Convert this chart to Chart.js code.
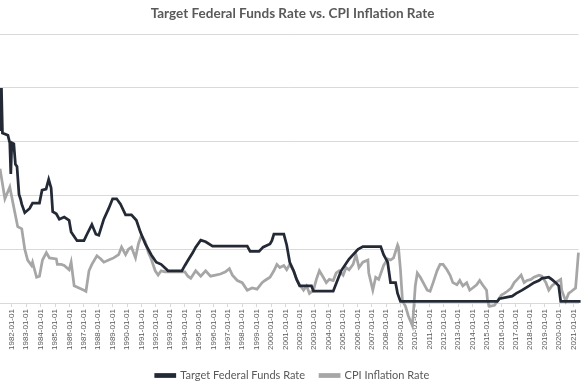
<!DOCTYPE html>
<html lang="en">
<head>
  <meta charset="UTF-8" />
  <title>Target Federal Funds Rate vs. CPI Inflation Rate</title>
  <script src="https://cdn.jsdelivr.net/npm/chart.js"></script>
  <style>
    body {
      margin: 0;
      background: #ffffff;
    }
    .chart-box {
      position: relative;
      width: 585px;
      height: 390px;
    }
  </style>
</head>
<body>
  <div class="chart-box">
    <canvas id="rateChart"></canvas>
  </div>

  <script>
    // Fed funds target (decimal year, %)
    const fedYears = [
      1981.18, 1981.28, 1981.35, 1981.73, 1981.86, 1981.93, 1982.0, 1982.14, 1982.25, 1982.36,
      1982.5, 1982.6, 1982.69, 1982.9, 1983.24, 1983.44, 1983.92, 1984.1, 1984.38, 1984.56,
      1984.73, 1984.84, 1985.09, 1985.3, 1985.64, 1985.98, 1986.12, 1986.53, 1987.01, 1987.22,
      1987.56, 1987.84, 1988.04, 1988.39, 1988.73, 1989.0, 1989.28, 1989.55, 1989.9, 1990.31,
      1990.65, 1990.93, 1991.27, 1991.68, 1992.03, 1992.37, 1992.85, 1993.81, 1994.02, 1994.29,
      1994.57, 1994.77, 1995.12, 1995.46, 1995.94, 1998.35, 1998.55, 1999.17, 1999.45, 1999.93,
      2000.06, 2000.2, 2000.89, 2001.09, 2001.3, 2001.57, 2001.78, 2001.99, 2002.81, 2002.95,
      2004.05, 2004.32, 2004.87, 2005.42, 2006.04, 2006.38, 2007.62, 2007.82, 2008.1, 2008.3,
      2008.65, 2008.79, 2008.99, 2015.72, 2015.86, 2016.75, 2017.03, 2017.44, 2017.92, 2018.26,
      2018.61, 2018.81, 2019.29, 2019.5, 2019.77, 2019.98, 2020.12, 2021.5
    ];
    const fedRates = [
      16.0, 20.0, 15.8, 15.6, 14.9, 12.0, 14.9, 14.8, 12.9, 12.7,
      10.1, 9.7, 9.2, 8.4, 8.8, 9.3, 9.3, 10.5, 10.6, 11.5,
      10.7, 8.5, 8.3, 7.8, 8.0, 7.7, 6.6, 5.8, 5.8, 6.4,
      7.3, 6.4, 6.3, 7.8, 8.8, 9.7, 9.7, 9.2, 8.2, 8.2,
      7.7, 6.6, 5.5, 4.5, 3.8, 3.6, 3.0, 3.0, 3.5, 4.1,
      4.7, 5.2, 5.85, 5.7, 5.3, 5.3, 4.8, 4.8, 5.2, 5.5,
      5.8, 6.4, 6.4, 5.4, 3.8, 3.0, 2.2, 1.6, 1.6, 1.1,
      1.1, 1.1, 3.0, 4.1, 5.0, 5.25, 5.25, 4.5, 3.8, 1.9,
      1.9, 0.9, 0.15, 0.15, 0.4, 0.65, 0.9, 1.2, 1.6, 1.9,
      2.1, 2.3, 2.4, 2.2, 1.9, 1.6, 0.15, 0.15
    ];

    // CPI inflation, year over year (decimal year, %)
    const cpiYears = [
      1981.18, 1981.52, 1981.86, 1982.2, 1982.41, 1982.69, 1982.9, 1983.1, 1983.37, 1983.44,
      1983.72, 1983.92, 1984.13, 1984.4, 1984.61, 1985.09, 1985.16, 1985.43, 1985.64, 1985.98,
      1986.12, 1986.33, 1986.67, 1987.01, 1987.15, 1987.36, 1987.56, 1987.91, 1988.18, 1988.39,
      1988.73, 1989.07, 1989.42, 1989.62, 1989.9, 1990.1, 1990.31, 1990.59, 1990.79, 1991.0,
      1991.27, 1991.48, 1991.68, 1991.96, 1992.16, 1992.37, 1992.65, 1994.02, 1994.23, 1994.43,
      1994.77, 1995.12, 1995.46, 1995.8, 1996.15, 1996.49, 1996.84, 1997.11, 1997.32, 1997.66,
      1998.0, 1998.35, 1998.69, 1999.03, 1999.38, 1999.58, 1999.93, 2000.2, 2000.41, 2000.61,
      2000.89, 2001.09, 2001.3, 2001.57, 2001.78, 2001.99, 2002.26, 2002.47, 2002.67, 2002.95,
      2003.15, 2003.36, 2003.63, 2003.84, 2004.05, 2004.32, 2004.53, 2004.73, 2005.01, 2005.21,
      2005.42, 2005.7, 2005.9, 2006.11, 2006.38, 2006.73, 2006.79, 2007.07, 2007.27, 2007.48,
      2007.82, 2008.1, 2008.3, 2008.51, 2008.79, 2008.85, 2008.99, 2009.13, 2009.34, 2009.54,
      2009.82, 2009.89, 2010.02, 2010.16, 2010.37, 2010.57, 2010.85, 2011.05, 2011.26, 2011.53,
      2011.74, 2011.95, 2012.22, 2012.43, 2012.63, 2012.91, 2013.11, 2013.32, 2013.59, 2013.8,
      2014.0, 2014.28, 2014.49, 2014.69, 2014.97, 2015.04, 2015.17, 2015.52, 2015.72, 2016.0,
      2016.2, 2016.41, 2016.68, 2016.89, 2017.1, 2017.37, 2017.58, 2017.78, 2018.06, 2018.26,
      2018.61, 2018.81, 2019.09, 2019.29, 2019.5, 2019.77, 2020.12, 2020.19, 2020.46, 2020.67,
      2020.87, 2021.15, 2021.22, 2021.35, 2021.45
    ];
    const cpiRates = [
      12.5, 9.7, 10.8, 8.5, 7.1, 6.9, 5.0, 4.0, 3.5, 3.8,
      2.4, 2.5, 4.0, 4.7, 4.2, 4.1, 3.6, 3.6, 3.5, 3.1,
      3.8, 1.6, 1.4, 1.2, 1.1, 3.0, 3.6, 4.4, 4.1, 3.8,
      4.0, 4.2, 4.5, 5.2, 4.5, 5.0, 5.2, 4.2, 5.5, 6.3,
      5.7, 4.7, 4.1, 3.0, 2.6, 3.0, 2.9, 2.9, 2.5, 2.3,
      3.0, 2.5, 3.0, 2.5, 2.6, 2.7, 2.9, 3.2, 2.6, 2.1,
      1.9, 1.2, 1.4, 1.3, 1.9, 2.1, 2.4, 3.0, 3.6, 3.3,
      3.5, 3.1, 3.6, 3.0, 2.2, 1.7, 1.2, 1.6, 0.9, 1.2,
      2.2, 3.0, 2.4, 1.9, 2.2, 2.1, 2.8, 3.0, 2.6, 3.3,
      3.1, 3.6, 4.5, 3.3, 3.8, 4.0, 2.8, 1.2, 2.4, 2.2,
      3.5, 4.1, 4.0, 4.2, 5.4, 5.2, 3.1, 0.2, -0.3, -1.2,
      -2.1, -0.9, 1.6, 2.8, 2.4, 1.9, 1.2, 1.1, 1.9, 3.0,
      3.6, 3.6, 3.1, 2.6, 1.9, 1.7, 2.1, 1.6, 1.9, 1.2,
      1.4, 1.7, 2.1, 1.7, 1.2, 0.2, -0.3, -0.2, 0.2, 0.75,
      0.9, 1.1, 1.4, 1.9, 2.2, 2.6, 1.9, 2.1, 2.2, 2.4,
      2.6, 2.5, 1.9, 1.2, 1.6, 1.9, 2.2, 1.2, 0.2, 0.9,
      1.1, 1.4, 2.5, 4.7, 5.0
    ];

    const tickLabels = [
      '1982-01-01', '1983-01-01', '1984-01-01', '1985-01-01', '1986-01-01',
      '1987-01-01', '1988-01-01', '1989-01-01', '1990-01-01', '1991-01-01',
      '1992-01-01', '1993-01-01', '1994-01-01', '1995-01-01', '1996-01-01',
      '1997-01-01', '1998-01-01', '1999-01-01', '2000-01-01', '2001-01-01',
      '2002-01-01', '2003-01-01', '2004-01-01', '2005-01-01', '2006-01-01',
      '2007-01-01', '2008-01-01', '2009-01-01', '2010-01-01', '2011-01-01',
      '2012-01-01', '2013-01-01', '2014-01-01', '2015-01-01', '2016-01-01',
      '2017-01-01', '2018-01-01', '2019-01-01', '2020-01-01', '2021-01-01'
    ];

    const fedPoints = fedYears.map((x, i) => ({ x: x, y: fedRates[i] }));
    const cpiPoints = cpiYears.map((x, i) => ({ x: x, y: cpiRates[i] }));

    const ctx = document.getElementById('rateChart').getContext('2d');

    new Chart(ctx, {
      type: 'line',
      data: {
        datasets: [
          {
            label: 'Target Federal Funds Rate',
            data: fedPoints,
            borderColor: '#232a36',
            backgroundColor: '#232a36',
            borderWidth: 2.75,
            pointRadius: 0,
            tension: 0,
            clip: false
          },
          {
            label: 'CPI Inflation Rate',
            data: cpiPoints,
            borderColor: '#a6a6a6',
            backgroundColor: '#a6a6a6',
            borderWidth: 2.75,
            pointRadius: 0,
            tension: 0,
            clip: false
          }
        ]
      },
      options: {
        responsive: true,
        maintainAspectRatio: false,
        animation: false,
        layout: { padding: { left: 0, right: 0, top: 0, bottom: -1 } },
        plugins: {
          title: {
            display: true,
            text: 'Target Federal Funds Rate vs. CPI Inflation Rate',
            color: '#595959',
            font: { family: 'Lato', size: 13.5, weight: 'bold' },
            padding: { top: 6, bottom: 12 }
          },
          legend: {
            position: 'bottom',
            labels: {
              color: '#595959',
              font: { family: 'Lato', size: 11 },
              boxWidth: 19,
              boxHeight: 2,
              padding: 15
            }
          },
          tooltip: { enabled: false }
        },
        scales: {
          x: {
            type: 'linear',
            min: 1981.18,
            max: 2021.35,
            afterFit: (scale) => { scale.height += 3; },
            afterBuildTicks: (scale) => {
              scale.ticks = tickLabels.map(t => ({ value: parseInt(t, 10) }));
            },
            ticks: {
              autoSkip: false,
              minRotation: 90,
              maxRotation: 90,
              color: '#595959',
              font: { family: 'Liberation Sans', size: 8 },
              padding: 2,
              callback: (value, index) => tickLabels[index]
            },
            grid: {
              drawOnChartArea: false,
              color: '#d9d9d9',
              tickLength: 4
            },
            border: { color: '#d9d9d9' }
          },
          y: {
            min: 0,
            max: 25,
            afterFit: (scale) => { scale.width = 0; },
            ticks: { display: false, stepSize: 5 },
            grid: { color: '#d9d9d9', drawTicks: false },
            border: { display: false }
          }
        }
      }
    });
  </script>
</body>
</html>
